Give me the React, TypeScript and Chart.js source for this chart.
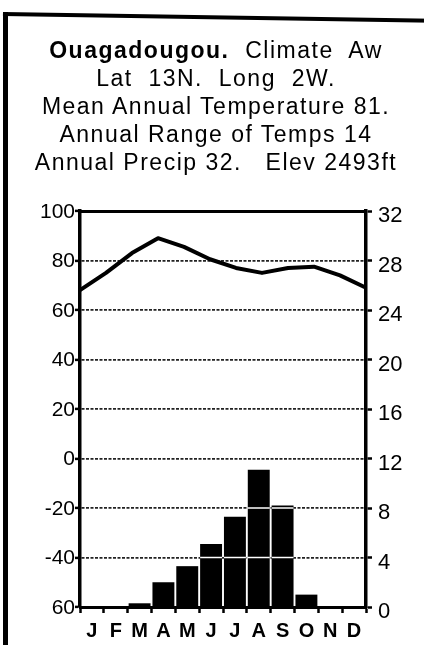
import React, { useEffect, useRef } from "react";
import { Chart, registerables } from "chart.js";

Chart.register(...registerables);

const FONT = "'Liberation Sans', Arial, Helvetica, sans-serif";

// ---- data ----
const months = ["J", "F", "M", "A", "M", "J", "J", "A", "S", "O", "N", "D"];
const temperatureF = [68, 75, 83, 89, 85.5, 80.5, 77, 75, 77, 77.5, 74, 69];
const precipitation = [0, 0, 0.3, 2.0, 3.3, 5.1, 7.3, 11.1, 8.2, 1.0, 0, 0];
const tempTickValues = [100, 80, 60, 40, 20, 0, -20, -40, -60];
const tempTickLabels = ["100", "80", "60", "40", "20", "0", "-20", "-40", "60"];
const precipTickValues = [32, 28, 24, 20, 16, 12, 8, 4, 0];

const titleBold = "Ouagadougou.";
const titleRest = "  Climate  Aw";
const titleLines = [
  "Lat  13N.  Long  2W.",
  "Mean Annual Temperature 81.",
  "Annual Range of Temps 14",
  "Annual Precip 32.   Elev 2493ft",
];

// white hairlines where the grid crosses the bars (as in the printed chart)
const barGridBreaks = {
  id: "barGridBreaks",
  afterDatasetsDraw(chart: any) {
    const yScale = chart.scales.y;
    const ctx = chart.ctx;
    chart.data.datasets.forEach((ds: any, di: number) => {
      const meta = chart.getDatasetMeta(di);
      if (meta.type !== "bar") return;
      meta.data.forEach((bar: any) => {
        const { x, y, base, width } = bar.getProps(["x", "y", "base", "width"], true);
        const top = Math.min(y, base);
        const bottom = Math.max(y, base);
        yScale.ticks.forEach((t: any) => {
          const py = yScale.getPixelForValue(t.value);
          if (py > top + 2 && py < bottom - 2) {
            ctx.save();
            ctx.strokeStyle = "#fff";
            ctx.lineWidth = 1.5;
            ctx.beginPath();
            ctx.moveTo(x - width / 2, py);
            ctx.lineTo(x + width / 2, py);
            ctx.stroke();
            ctx.restore();
          }
        });
      });
    });
  },
};

export default function App() {
  const canvasRef = useRef<HTMLCanvasElement | null>(null);

  useEffect(() => {
    const canvas = canvasRef.current;
    if (!canvas) return;
    const chart = new Chart(canvas, {
      type: "bar",
      data: {
        labels: months,
        datasets: [
          {
            type: "line",
            data: temperatureF,
            xAxisID: "xl",
            yAxisID: "y",
            borderColor: "#000",
            borderWidth: 4,
            pointRadius: 0,
            tension: 0,
            borderJoinStyle: "round",
            order: 0,
          } as any,
          {
            type: "bar",
            data: precipitation,
            xAxisID: "x",
            yAxisID: "y1",
            backgroundColor: "#000",
            borderWidth: 0,
            grouped: false,
            barPercentage: 0.92,
            categoryPercentage: 1,
            order: 1,
          },
        ],
      },
      options: {
        animation: false,
        responsive: false,
        maintainAspectRatio: false,
        layout: { padding: { top: 211, left: 0, right: 0, bottom: 0 } },
        plugins: {
          legend: { display: false },
          tooltip: { enabled: false },
          title: { display: false },
        },
        scales: {
          x: {
            type: "category",
            position: "bottom",
            offset: true,
            grid: {
              offset: true,
              drawOnChartArea: false,
              drawTicks: true,
              tickLength: 6,
              tickWidth: 2.5,
              tickColor: "#000",
            },
            border: { display: true, color: "#000", width: 3 },
            ticks: {
              color: "#000",
              font: { family: FONT, size: 20, weight: "bold" },
              padding: 6,
              maxRotation: 0,
              autoSkip: false,
            },
            afterFit: (s: any) => {
              s.height = 38;
            },
          },
          xl: { type: "category", display: false, offset: false },
          xt: {
            type: "category",
            position: "top",
            offset: false,
            ticks: { display: false },
            grid: { display: false, drawTicks: false },
            border: { display: true, color: "#000", width: 3 },
            afterFit: (s: any) => {
              s.height = 0;
            },
          },
          y: {
            type: "linear",
            position: "left",
            min: -60,
            max: 100,
            ticks: {
              stepSize: 20,
              color: "#000",
              font: { family: FONT, size: 21 },
              padding: 0,
              labelOffset: 1,
              callback: (v: any) => {
                const i = tempTickValues.indexOf(Number(v));
                return i >= 0 ? tempTickLabels[i] : "";
              },
            },
            grid: {
              color: "#222",
              lineWidth: 1.8,
              drawTicks: true,
              tickLength: 5,
              tickWidth: 2.5,
              tickColor: "#000",
            },
            border: { display: true, color: "#000", width: 3.5, dash: [3, 1.5] },
            afterFit: (s: any) => {
              s.width = 80;
            },
          },
          y1: {
            type: "linear",
            position: "right",
            min: 0,
            max: 32,
            ticks: {
              stepSize: 4,
              color: "#000",
              font: { family: FONT, size: 22 },
              padding: 6,
              labelOffset: 5,
              callback: (v: any) => {
                const i = precipTickValues.indexOf(Number(v));
                return i >= 0 ? String(precipTickValues[i]) : "";
              },
            },
            grid: {
              drawOnChartArea: false,
              drawTicks: true,
              tickLength: 6,
              tickWidth: 2.5,
              tickColor: "#000",
            },
            border: { display: true, color: "#000", width: 3.5 },
            afterFit: (s: any) => {
              s.width = 58;
            },
          },
        },
      } as any,
      plugins: [barGridBreaks],
    });
    return () => chart.destroy();
  }, []);

  const lineStyle = (top: number): React.CSSProperties => ({
    position: "absolute",
    left: 0,
    width: 432,
    top,
    textAlign: "center",
    fontFamily: FONT,
    fontSize: 23,
    lineHeight: "28px",
    letterSpacing: "1.5px",
    whiteSpace: "pre",
    color: "#000",
  });

  return (
    <div
      style={{
        position: "fixed",
        left: 0,
        top: 0,
        width: 424,
        height: 645,
        background: "#fff",
        overflow: "hidden",
      }}
    >
      <canvas
        ref={canvasRef}
        width={424}
        height={645}
        style={{ position: "absolute", left: 0, top: 0, width: 424, height: 645 }}
      />
      <div
        style={{
          position: "absolute",
          left: 3,
          top: 12,
          width: 5,
          height: 640,
          background: "#000",
        }}
      />
      <div
        style={{
          position: "absolute",
          left: 3,
          top: 12,
          width: 430,
          height: 4,
          background: "#000",
          transform: "rotate(0.9deg)",
          transformOrigin: "0 0",
        }}
      />
      <div style={lineStyle(36)}>
        <span style={{ fontWeight: "bold" }}>{titleBold}</span>
        <span>{titleRest}</span>
      </div>
      {titleLines.map((t, i) => (
        <div key={i} style={lineStyle(64 + i * 28)}>
          {t}
        </div>
      ))}
    </div>
  );
}
